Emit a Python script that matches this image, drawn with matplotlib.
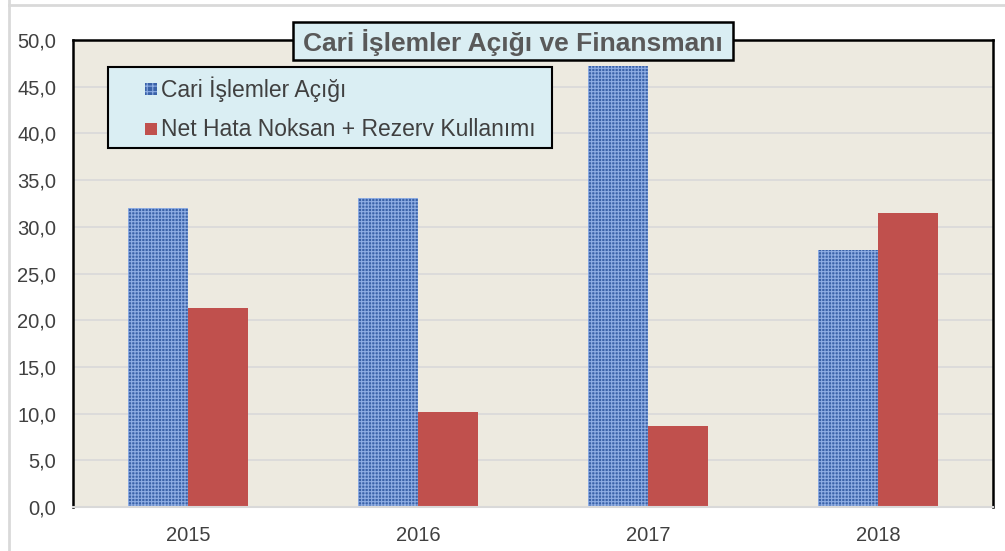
import numpy as np
import matplotlib.pyplot as plt
from matplotlib.patches import Rectangle

plt.rcParams['font.family'] = ['Liberation Sans', 'DejaVu Sans']

years = ['2015', '2016', '2017', '2018']
cari_acik = [32.0, 33.1, 47.2, 27.5]
nhn_rezerv = [21.3, 10.2, 8.7, 31.5]
series_names = ['Cari İşlemler Açığı', 'Net Hata Noksan + Rezerv Kullanımı']
yticks = np.arange(0, 50.1, 5)

W, H = 1005, 551
fig = plt.figure(figsize=(W / 100, H / 100), dpi=100)
fig.patch.set_facecolor('white')
ax = fig.add_axes([73 / W, 44 / H, 920 / W, 467 / H])
ax.set_facecolor('#EDEAE0')

blue, blue_hatch, red = '#3A62A8', '#8EADE3', '#C0504D'
plt.rcParams['hatch.color'] = blue_hatch
plt.rcParams['hatch.linewidth'] = 0.8

x = np.arange(len(years))
w = 0.262
ax.bar(x - w / 2, cari_acik, w, color=blue, hatch='+++++', edgecolor=blue_hatch, linewidth=0, zorder=2)
ax.bar(x + w / 2, nhn_rezerv, w, color=red, linewidth=0, zorder=2)

ax.set_xlim(-0.5, 3.5)
ax.set_ylim(0, 50)
ax.set_yticks(yticks)
ax.set_yticklabels([f'{v:.1f}'.replace('.', ',') for v in yticks], fontsize=14.5, color='#404040')
ax.set_xticks(x)
ax.set_xticklabels(years, fontsize=14.5, color='#404040')
ax.tick_params(length=0)
ax.tick_params(axis='x', pad=14)
ax.tick_params(axis='y', pad=12)
ax.grid(axis='y', color='#D9D9D9', linewidth=1.2, zorder=1)
for s in ['top', 'left', 'right']:
    ax.spines[s].set_color('black')
    ax.spines[s].set_linewidth(1.8)
ax.spines['bottom'].set_color('#D9D9D9')
ax.spines['bottom'].set_linewidth(1.5)

def px(x0, y0):
    return x0 / W, 1 - y0 / H

# title box
fig.add_artist(Rectangle(px(293, 60), 440 / W, 38 / H, transform=fig.transFigure,
                         facecolor='#DAEEF3', edgecolor='black', linewidth=1.8, zorder=5))
fig.text(*px(513, 42), 'Cari İşlemler Açığı ve Finansmanı', ha='center', va='center',
         fontsize=19, fontweight='bold', color='#595959', zorder=6)

# legend box, drawn by hand
fig.add_artist(Rectangle(px(108, 148), 444 / W, 81 / H, transform=fig.transFigure,
                         facecolor='#DAEEF3', edgecolor='black', linewidth=1.5, zorder=5))
for name, col, hatch, yc in [(series_names[0], blue, '+++', 89), (series_names[1], red, None, 129)]:
    fig.add_artist(Rectangle(px(145, yc + 6), 12 / W, 12 / H, transform=fig.transFigure,
                             facecolor=col, hatch=hatch, edgecolor=blue_hatch if hatch else col,
                             linewidth=0, zorder=6))
    fig.text(*px(161, yc), name, ha='left', va='center', fontsize=16.5, color='#404040', zorder=6)

# outer chart frame lines
fig.add_artist(plt.Line2D([9 / W, 9 / W], [0, 1], color='#D9D9D9', linewidth=2))
fig.add_artist(plt.Line2D([9 / W, 1], [1 - 5 / H, 1 - 5 / H], color='#D9D9D9', linewidth=2))

fig.savefig('out.png', dpi=100)
